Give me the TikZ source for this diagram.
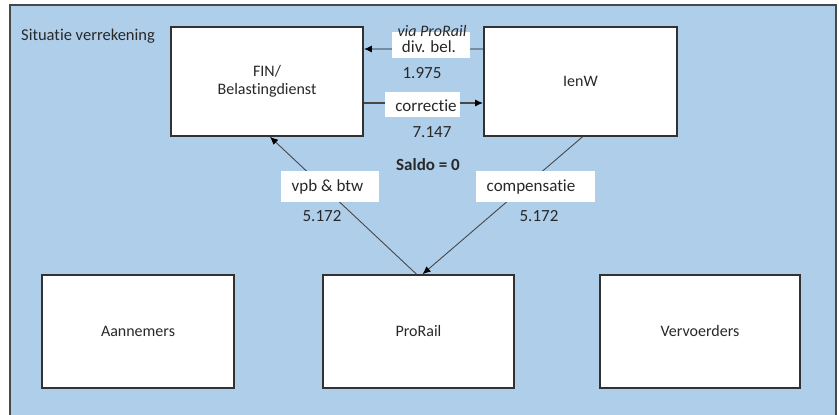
\documentclass[tikz,border=0pt]{standalone}
\usepackage{fontspec}
\setmainfont{Carlito}[Ligatures={NoCommon,NoRare}]
\usetikzlibrary{arrows.meta}
\definecolor{bg}{RGB}{175,206,234}
\definecolor{framec}{RGB}{72,72,72}
\definecolor{boxc}{RGB}{50,50,50}
\definecolor{txt}{RGB}{40,40,40}
\definecolor{lightline}{RGB}{118,140,160}
\newcommand\nolig{\kern0pt}
\begin{document}
\begin{tikzpicture}[x=1pt,y=-1pt,
  box/.style={draw=boxc, line width=1.6pt, fill=white, inner sep=0pt, align=center,
    text=txt, font=\fontsize{16}{18}\selectfont},
  lblbox/.style={fill=white, inner sep=0pt},
  lbltext/.style={text=txt, font=\fontsize{17}{20}\selectfont, inner sep=0pt},
  conn/.style={draw=framec, line width=0.9pt},
  tip/.style={-{Latex[length=8pt,width=7pt,color=black]}}
]
\useasboundingbox (0,0) rectangle (839,415);
\clip (0,0) rectangle (839,415);
\fill[white] (0,0) rectangle (839,415);
\draw[framec, line width=1.6pt, fill=bg] (10,5) rectangle (836,440);

\node[lbltext, anchor=west, font=\fontsize{16.5}{19}\selectfont] (title) at (21,36) {Situat\nolig ie verrekening};

% boxes
\node[box, minimum width=192, minimum height=109] (fin) at (267,81.5) {FIN/\\Belast\nolig ingdienst};
\node[box, minimum width=193, minimum height=109] (ienw) at (580.5,81.5) {IenW};
\node[box, minimum width=192, minimum height=113] (aann) at (138,331.5) {Aannemers};
\node[box, minimum width=191, minimum height=113] (prorail) at (418.5,331.5) {ProRail};
\node[box, minimum width=200, minimum height=113] (verv) at (700,331.5) {Vervoerders};

% connectors
\draw[draw=lightline, line width=1.4pt, tip] (ienw.west |- 0,49) -- (fin.east |- 0,49);
\draw[draw=framec, line width=1.5pt, tip] (fin.east |- 0,103) -- (ienw.west |- 0,103);
\draw[conn, tip] ([xshift=-2pt]prorail.north) -- ([xshift=3pt]fin.south);
\draw[conn, tip] ([xshift=2pt]ienw.south) -- ([xshift=4pt]prorail.north);

% label boxes
\node[lblbox, minimum width=78, minimum height=26] (divbox) at (431,45) {};
\node[lbltext, font=\fontsize{16}{19}\itshape] (via) at (432,31) {via ProRail};
\node[lbltext] (div) at (429,47) {div. bel.};
\node[lbltext] (n1975) at (422,73) {1.975};

\node[lblbox, minimum width=75, minimum height=25] (corrbox) at (422.5,104.5) {};
\node[lbltext] (corr) at (426,105.5) {correc\nolig t\nolig ie};
\node[lbltext] (n7147) at (432,132) {7.147};

\node[lbltext, font=\fontsize{17}{20}\bfseries] (saldo) at (428,165) {Saldo = 0};

\node[lblbox, minimum width=98, minimum height=31] (vpbbox) at (330,186.5) {};
\node[lbltext] (vpb) at (327.5,187) {vpb \& btw};
\node[lbltext] (n5172a) at (322,216) {5.172};

\node[lblbox, minimum width=119, minimum height=31] (compbox) at (535.5,186.5) {};
\node[lbltext] (comp) at (531,187) {compensat\nolig ie};
\node[lbltext] (n5172b) at (539,216) {5.172};
\end{tikzpicture}
\end{document}
